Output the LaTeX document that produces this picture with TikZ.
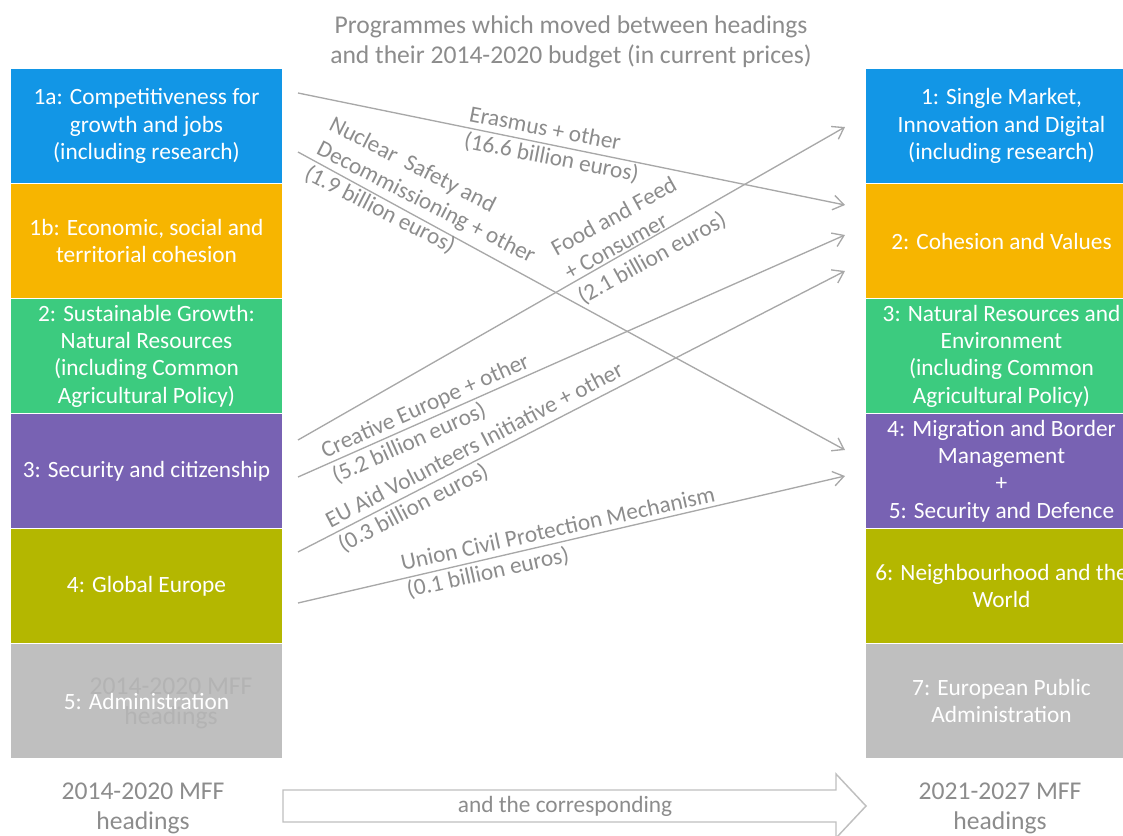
\documentclass[tikz,border=0pt]{standalone}
\usepackage{fontspec}
\setmainfont{Carlito}
\usetikzlibrary{arrows.meta}
\definecolor{cBlue}{HTML}{1296E6}
\definecolor{cOrange}{HTML}{F7B500}
\definecolor{cGreen}{HTML}{3CCB7F}
\definecolor{cPurple}{HTML}{7862B3}
\definecolor{cOlive}{HTML}{B4B700}
\definecolor{cGray}{HTML}{BFBFBF}
\definecolor{cText}{HTML}{8C8C8C}
\definecolor{cLine}{HTML}{A8A8A8}
\definecolor{cGhost}{HTML}{B3B3B3}
\begin{document}
\begin{tikzpicture}[x=0.75pt,y=-0.75pt,
  hbox/.style={draw=white, line width=0.75pt, minimum width=204pt, minimum height=86.25pt,
    inner sep=0pt, anchor=north west},
  htext/.style={text=white, align=center, font=\fontsize{17.5}{20.5}\selectfont, inner sep=0pt},
  lbl/.style={text=cText, align=left, font=\fontsize{17.5}{20.5}\selectfont, inner sep=0pt},
  ctext/.style={text=cText, align=center, font=\fontsize{19.2}{22.5}\selectfont, inner sep=0pt},
  flow/.style={draw=cLine, line width=1pt, -{Straight Barb[length=8pt,width=11pt]}},
  bigarrow/.style={draw=cGray, line width=1.1pt}
]
\useasboundingbox (0,0) rectangle (1123,835);
\clip (0,0) rectangle (1123,835);

% title
\node[ctext] (title) at (571,42) {Programmes which moved between headings\\and their 2014-2020 budget (in current prices)};

% left column (2014-2020)
\node[hbox, fill=cBlue] (l1) at (10,68) {};
\node[htext] (l1t) at (l1.center) {1a: Competitiveness for\\growth and jobs\\(including research)};
\node[hbox, fill=cOrange] (l2) at (10,183) {};
\node[htext] (l2t) at (l2.center) {1b: Economic, social and\\territorial cohesion};
\node[hbox, fill=cGreen] (l3) at (10,298) {};
\node[htext] (l3t) at (l3.center) {2: Sustainable Growth:\\Natural Resources\\(including Common\\Agricultural Policy)};
\node[hbox, fill=cPurple] (l4) at (10,413) {};
\node[htext] (l4t) at (l4.center) {3: Security and citizenship};
\node[hbox, fill=cOlive] (l5) at (10,528) {};
\node[htext] (l5t) at (l5.center) {4: Global Europe};
\node[hbox, fill=cGray] (l6) at (10,643) {};
\node[ctext, text=cGhost] (ghost) at (171,703) {2014-2020 MFF\\headings};
\node[htext] (l6t) at (l6.center) {5: Administration};

% right column (2021-2027)
\node[hbox, fill=cBlue] (r1) at (865,68) {};
\node[htext] (r1t) at (r1.center) {1: Single Market,\\Innovation and Digital\\(including research)};
\node[hbox, fill=cOrange] (r2) at (865,183) {};
\node[htext] (r2t) at (r2.center) {2: Cohesion and Values};
\node[hbox, fill=cGreen] (r3) at (865,298) {};
\node[htext] (r3t) at (r3.center) {3: Natural Resources and\\Environment\\(including Common\\Agricultural Policy)};
\node[hbox, fill=cPurple] (r4) at (865,413) {};
\node[htext] (r4t) at (r4.center) {4: Migration and Border\\Management\\+\\5: Security and Defence};
\node[hbox, fill=cOlive] (r5) at (865,528) {};
\node[htext] (r5t) at (r5.center) {6: Neighbourhood and the\\World};
\node[hbox, fill=cGray] (r6) at (865,643) {};
\node[htext] (r6t) at (r6.center) {7: European Public\\Administration};

% flow end points
\coordinate (s1) at (298,93);  \coordinate (t1) at (845,205);
\coordinate (s2) at (298,152); \coordinate (t2) at (845,450);
\coordinate (s3) at (298,440); \coordinate (t3) at (845,127);
\coordinate (s4) at (298,477); \coordinate (t4) at (845,235);
\coordinate (s5) at (298,552); \coordinate (t5) at (845,271);
\coordinate (s6) at (298,603); \coordinate (t6) at (845,476);

\draw[flow] (s1) -- (t1);
\draw[flow] (s2) -- (t2);
\draw[flow] (s3) -- (t3);
\draw[flow] (s4) -- (t4);
\draw[flow] (s5) -- (t5);
\draw[flow] (s6) -- (t6);

% flow labels
\node[lbl, rotate=-11] (f1) at (554,145) {Erasmus + other\\(16.6 billion euros)};
\node[lbl, rotate=-27] (f2) at (426,203) {Nuclear~ Safety and\\Decommissioning + other\\(1.9 billion euros)};
\node[lbl, rotate=29] (f3) at (639,235) {Food and Feed\\+ Consumer\\(2.1 billion euros)};
\node[lbl, rotate=24] (f4) at (431,419) {Creative Europe + other\\(5.2 billion euros)};
\node[lbl, rotate=27.5] (f5) at (481,458) {EU Aid Volunteers Initiative + other\\(0.3 billion euros)};
\node[lbl, rotate=12.5] (f6) at (561,543) {Union Civil Protection Mechanism\\(0.1 billion euros)};

% bottom
\node[ctext] (bl) at (143,808) {2014-2020 MFF\\headings};
\node[ctext] (br) at (1000,808) {2021-2027 MFF\\headings};
\draw[bigarrow] (283,790) -- (836,790) -- (836,774) -- (866,806) -- (836,838) -- (836,822) -- (283,822) -- cycle;
\node[lbl, align=center] (bm) at (565,806) {and the corresponding};
\end{tikzpicture}
\end{document}
